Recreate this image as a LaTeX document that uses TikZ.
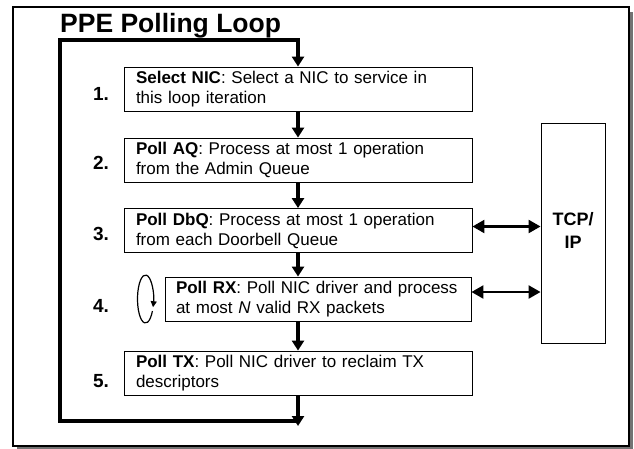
\documentclass[tikz,border=0pt]{standalone}
\usepackage{fontspec}
\setmainfont{Liberation Sans}
\usetikzlibrary{arrows.meta}
\tikzset{
  stepbox/.style={draw=black, line width=0.9pt, fill=white, minimum height=44pt,
    inner xsep=12pt, inner ysep=0pt, align=left,
    font=\fontsize{17}{20}\selectfont},
  stepnum/.style={font=\fontsize{19}{22}\selectfont\bfseries},
  flow/.style={line width=3.2pt, -{Triangle[length=10pt,width=12pt]}},
  duplex/.style={line width=2.4pt, {Triangle[length=12pt,width=13pt]}-{Triangle[length=12pt,width=13pt]}},
}
\begin{document}
\begin{tikzpicture}[x=1pt,y=-1pt]
  \useasboundingbox (0,0) rectangle (634,448);
  % frame with shadow
  \fill[black!55] (17,12) rectangle (633,450);
  \draw[fill=white, line width=1.6pt] (13,7) rectangle (629,446);
  \node[anchor=base west, font=\fontsize{26.5}{30}\selectfont\bfseries, inner sep=0pt]
    (title) at (60,32) {PPE Polling Loop};

  % steps
  \node[stepbox, text width=324pt] (nic) at (298,89)
    {\textbf{Select NIC}: Select a NIC to service in\\this loop iteration};
  \node[stepbox, text width=324pt] (aq) at (298,160)
    {\textbf{Poll AQ}: Process at most 1 operation\\from the Admin Queue};
  \node[stepbox, text width=324pt] (dbq) at (298,230.5)
    {\textbf{Poll DbQ}: Process at most 1 operation\\from each Doorbell Queue};
  \node[stepbox, text width=284pt, inner xsep=11pt] (rx) at (318,299)
    {\textbf{Poll RX}: Poll NIC driver and process\\at most \emph{N} valid RX packets};
  \node[stepbox, text width=324pt] (tx) at (298,373)
    {\textbf{Poll TX}: Poll NIC driver to reclaim TX\\descriptors};

  \node[stepnum] (n1) at (101,94) {1.};
  \node[stepnum] (n2) at (101,163) {2.};
  \node[stepnum] (n3) at (101,234) {3.};
  \node[stepnum] (n4) at (101,306) {4.};
  \node[stepnum] (n5) at (101,381) {5.};

  \node[draw=black, line width=0.9pt, minimum width=64pt, minimum height=220pt,
    align=center, font=\fontsize{18}{23}\selectfont\bfseries] (tcp) at (573,233)
    {\raisebox{5pt}{TCP/}\\\raisebox{5pt}{IP}};

  % loop
  \coordinate (botright) at (298,421);
  \coordinate (botleft) at (60,421);
  \coordinate (topleft) at (60,40);
  \coordinate (topright) at (298,40);
  \draw[flow] (botright) -- (botleft) -- (topleft) -- (topright) -- (nic.north);
  \draw[flow] (nic.south) -- (aq.north);
  \draw[flow] (aq.south) -- (dbq.north);
  \draw[flow] (dbq.south) -- (dbq.south |- rx.north);
  \draw[flow] (tx.north |- rx.south) -- (tx.north);
  \draw[flow] (tx.south) -- ([yshift=-5pt]botright);

  % to TCP/IP
  \draw[duplex] ([yshift=4pt]dbq.east) -- ([yshift=4pt]dbq.east -| tcp.west);
  \draw[duplex] ([yshift=7pt]rx.east) -- ([yshift=7pt]rx.east -| tcp.west);

  % RX inner loop
  \coordinate (spin) at (145.5,299);
  \draw[line width=1.2pt, -{Triangle[length=6pt,width=6pt]}]
    ([shift={(-330:8 and 24)}]spin) arc[start angle=-330, end angle=20, x radius=8, y radius=24];
\end{tikzpicture}
\end{document}
